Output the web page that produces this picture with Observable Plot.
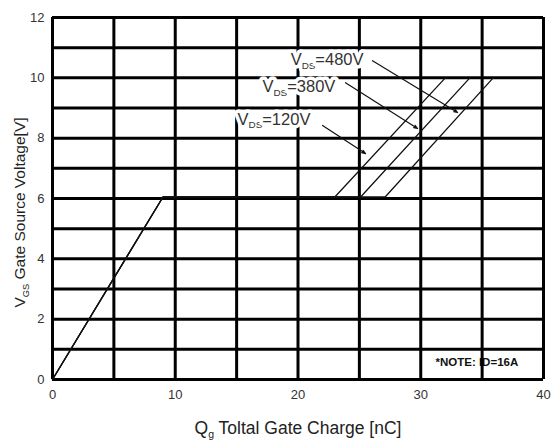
<!DOCTYPE html>
<html>
<head>
<meta charset="utf-8">
<script src="https://cdn.jsdelivr.net/npm/d3@7"></script>
<script src="https://cdn.jsdelivr.net/npm/@observablehq/plot@0.6"></script>
<style>
  html, body { margin: 0; padding: 0; background: #fff; }
  #chart svg { display: block; }
</style>
</head>
<body>
<div id="chart"></div>
<script>
// Gate charge curves (Qg in nC, VGS in V) for three VDS values
const q120 = [0, 9, 23, 32];
const v120 = [0, 6.05, 6.05, 10];
const q380 = [0, 9, 25.1, 34];
const v380 = [0, 6.05, 6.05, 10];
const q480 = [0, 9, 27.1, 35.9];
const v480 = [0, 6.05, 6.05, 10];

// tick / grid values
const xTicks = [0, 10, 20, 30, 40];
const yTicks = [0, 2, 4, 6, 8, 10, 12];
const xGrid = [0, 5, 10, 15, 20, 25, 30, 35, 40];
const yGrid = [0, 1, 2, 3, 4, 5, 6, 7, 8, 9, 10, 11, 12];

// annotation labels and their pointer lines
const labelText = ["V_{DS}=480V", "V_{DS}=380V", "V_{DS}=120V"];
const labelQ = [19.4, 17.1, 15.07];
const labelV = [10.6, 9.7, 8.62];
const arrowQ1 = [26.07, 23.87, 22.0];
const arrowV1 = [10.57, 9.84, 8.42];
const arrowQ2 = [33.0, 29.74, 25.5];
const arrowV2 = [8.85, 8.32, 7.49];

const noteText = ["*NOTE: ID=16A"];
const noteQ = [31.2];
const noteV = [0.58];

const xTitle = "Q_{g} Toltal Gate Charge [nC]";
const yTitle = "V_{GS} Gate Source Voltage[V]";

const curves = [
  ...q120.map((q, i) => ({series: "120V", q, v: v120[i]})),
  ...q380.map((q, i) => ({series: "380V", q, v: v380[i]})),
  ...q480.map((q, i) => ({series: "480V", q, v: v480[i]}))
];
const labels = labelText.map((t, i) => ({t, q: labelQ[i], v: labelV[i]}));
const arrows = arrowQ1.map((q1, i) => ({q1, v1: arrowV1[i], q2: arrowQ2[i], v2: arrowV2[i]}));
const notes = noteText.map((t, i) => ({t, q: noteQ[i], v: noteV[i]}));

const FONT = "'Liberation Sans', Arial, Helvetica, sans-serif";

const plot = Plot.plot({
  width: 557,
  height: 440,
  marginLeft: 52,
  marginRight: 14,
  marginTop: 17,
  marginBottom: 61,
  style: {fontFamily: FONT, fontSize: "13px", color: "#333", background: "#fff"},
  x: {domain: [0, 40], ticks: xTicks, tickSize: 0, tickPadding: 10, label: null},
  y: {domain: [0, 12], ticks: yTicks, tickSize: 0, tickPadding: 8, label: null},
  marks: [
    Plot.text(notes, {x: "q", y: "v", text: "t", textAnchor: "start", fontSize: 11.5, fontWeight: "bold", fill: "#111"}),
    Plot.ruleX(xGrid, {stroke: "#000", strokeWidth: 3}),
    Plot.ruleY(yGrid, {stroke: "#000", strokeWidth: 3}),
    Plot.line(curves, {x: "q", y: "v", z: "series", stroke: "#111", strokeWidth: 1.3}),
    Plot.arrow(arrows, {x1: "q1", y1: "v1", x2: "q2", y2: "v2", stroke: "#111", strokeWidth: 1.2, headLength: 5, headAngle: 40}),
    Plot.text(labels, {x: "q", y: "v", text: "t", textAnchor: "start", fontSize: 16.5, fill: "#333", stroke: "#fff", strokeWidth: 7}),
    Plot.text([xTitle], {frameAnchor: "bottom", textAnchor: "middle", lineAnchor: "middle", dy: 49, fontSize: 17.5, fill: "#222"}),
    Plot.text([yTitle], {frameAnchor: "left", textAnchor: "middle", lineAnchor: "middle", dx: -32, dy: 14, rotate: -90, fontSize: 15.5, fill: "#222"})
  ]
});

// turn "_{...}" markers into real subscript tspans
plot.querySelectorAll("text").forEach(t => {
  const s = t.textContent;
  if (!s.includes("_{")) return;
  while (t.firstChild) t.removeChild(t.firstChild);
  const parts = s.split(/(_\{[^}]*\})/).filter(p => p.length);
  const ns = "http://www.w3.org/2000/svg";
  let shifted = false;
  parts.forEach(p => {
    const ts = document.createElementNS(ns, "tspan");
    if (p.startsWith("_{")) {
      ts.textContent = p.slice(2, -1);
      ts.setAttribute("font-size", "0.6em");
      ts.setAttribute("dy", "3.5");
      shifted = true;
    } else {
      ts.textContent = p;
      if (shifted) { ts.setAttribute("dy", "-3.5"); shifted = false; }
    }
    t.appendChild(ts);
  });
});

document.getElementById("chart").appendChild(plot);
</script>
</body>
</html>
